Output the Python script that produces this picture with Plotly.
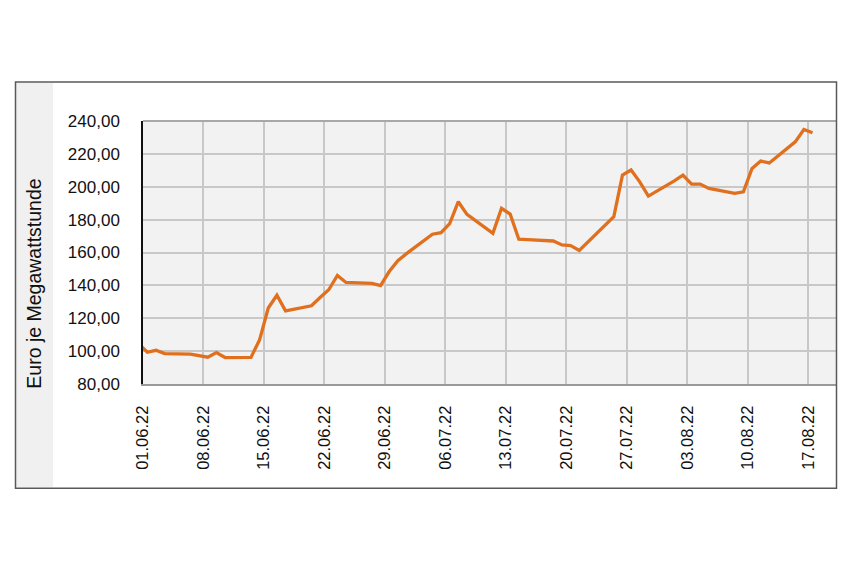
import pandas as pd
import plotly.graph_objects as go

# Trading days and prices (Euro je Megawattstunde)
dates = [
    "2022-05-31", "2022-06-01", "2022-06-02", "2022-06-03", "2022-06-06", "2022-06-07",
    "2022-06-08", "2022-06-09", "2022-06-10", "2022-06-13", "2022-06-14", "2022-06-15",
    "2022-06-16", "2022-06-17", "2022-06-20", "2022-06-21", "2022-06-22", "2022-06-23",
    "2022-06-24", "2022-06-27", "2022-06-28", "2022-06-29", "2022-06-30", "2022-07-01",
    "2022-07-04", "2022-07-05", "2022-07-06", "2022-07-07", "2022-07-08", "2022-07-11",
    "2022-07-12", "2022-07-13", "2022-07-14", "2022-07-15", "2022-07-18", "2022-07-19",
    "2022-07-20", "2022-07-21", "2022-07-22", "2022-07-25", "2022-07-26", "2022-07-27",
    "2022-07-28", "2022-07-29", "2022-08-01", "2022-08-02", "2022-08-03", "2022-08-04",
    "2022-08-05", "2022-08-08", "2022-08-09", "2022-08-10", "2022-08-11", "2022-08-12",
    "2022-08-15", "2022-08-16", "2022-08-17",
]
prices = [
    104.5, 99.3, 100.5, 98.5, 98.2, 97.4,
    96.3, 99.1, 96.1, 96.2, 107.0, 126.2,
    134.0, 124.5, 127.6, 132.6, 137.3, 146.0,
    141.8, 141.2, 139.8, 148.4, 155.0, 159.3,
    171.1, 172.1, 177.6, 190.9, 183.2, 171.7,
    186.9, 183.4, 168.1, 167.8, 167.0, 164.6,
    164.2, 161.3, 166.3, 181.8, 207.1, 210.2,
    203.0, 194.3, 203.6, 207.1, 201.6, 201.6,
    199.0, 196.0, 196.9, 211.1, 215.6, 214.5,
    227.3, 234.8, 232.8,
]
tick_labels = ["01.06.22", "08.06.22", "15.06.22", "22.06.22", "29.06.22", "06.07.22",
               "13.07.22", "20.07.22", "27.07.22", "03.08.22", "10.08.22", "17.08.22"]
y_ticks = [80, 100, 120, 140, 160, 180, 200, 220, 240]
y_title = "Euro je Megawattstunde"

# points are centred within their day (date axis, "between tick marks")
x_vals = pd.to_datetime(dates) + pd.Timedelta(hours=12)
tick_vals = pd.to_datetime(tick_labels, format="%d.%m.%y")

OFF = 8  # default body margin of the html page
W, H = 852 - OFF, 569 - OFF
L, R, T, B = 143 - OFF, 15, 121 - OFF, 184.5
pw, ph = W - L - R, H - T - B

def px(x):
    return (x - OFF - L) / pw

def py(y):
    return (H - B - (y - OFF)) / ph

FONT = "Liberation Sans, Arial, Helvetica, sans-serif"

fig = go.Figure()
fig.add_trace(go.Scatter(
    x=x_vals, y=prices, mode="lines",
    line=dict(color="#E0701E", width=3.3),
    hoverinfo="skip", showlegend=False,
))

fig.update_layout(
    width=W, height=H,
    margin=dict(l=L, r=R, t=T, b=B),
    paper_bgcolor="white",
    plot_bgcolor="#f2f2f2",
    separators=",.",
    font=dict(family=FONT, color="#111111"),
    xaxis=dict(
        range=["2022-06-01", "2022-08-20 08:00"],
        tickmode="array",
        tickvals=tick_vals,
        ticktext=tick_labels,
        tickangle=-90,
        tickfont=dict(size=16.5, family=FONT, color="#111111"),
        showgrid=True, gridcolor="#c8c8c8", gridwidth=1.5,
        ticks="outside", ticklen=13, tickcolor="rgba(0,0,0,0)",
        showline=True, linecolor="#9a9a9a", linewidth=2,
        zeroline=False,
    ),
    yaxis=dict(
        range=[80, 240],
        tickmode="array",
        tickvals=y_ticks,
        tickformat=".2f",
        tickfont=dict(size=17, family=FONT, color="#111111"),
        showgrid=True, gridcolor="#c8c8c8", gridwidth=1.5,
        ticks="outside", ticklen=18, tickcolor="rgba(0,0,0,0)",
        showline=True, linecolor="#111111", linewidth=1.5,
        zeroline=False,
    ),
    shapes=[
        # light strip at the left of the frame
        dict(type="rect", xref="paper", yref="paper",
             x0=px(16), x1=px(53), y0=py(488), y1=py(83),
             fillcolor="#f0f0f0", line=dict(width=0), layer="below"),
        # top line of the plot area
        dict(type="line", xref="paper", yref="paper",
             x0=0, x1=1, y0=1, y1=1,
             line=dict(color="#a8a8a8", width=2)),
        # outer frame
        dict(type="rect", xref="paper", yref="paper",
             x0=px(15.5), x1=px(836.5), y0=py(489), y1=py(82),
             fillcolor="rgba(0,0,0,0)", line=dict(color="#595959", width=1.5)),
    ],
    annotations=[
        dict(text=y_title, xref="paper", yref="paper",
             x=px(34), y=py(284), textangle=-90, showarrow=False,
             xanchor="center", yanchor="middle",
             font=dict(size=19.5, family=FONT, color="#111111")),
    ],
)

fig.write_html("out.html")
